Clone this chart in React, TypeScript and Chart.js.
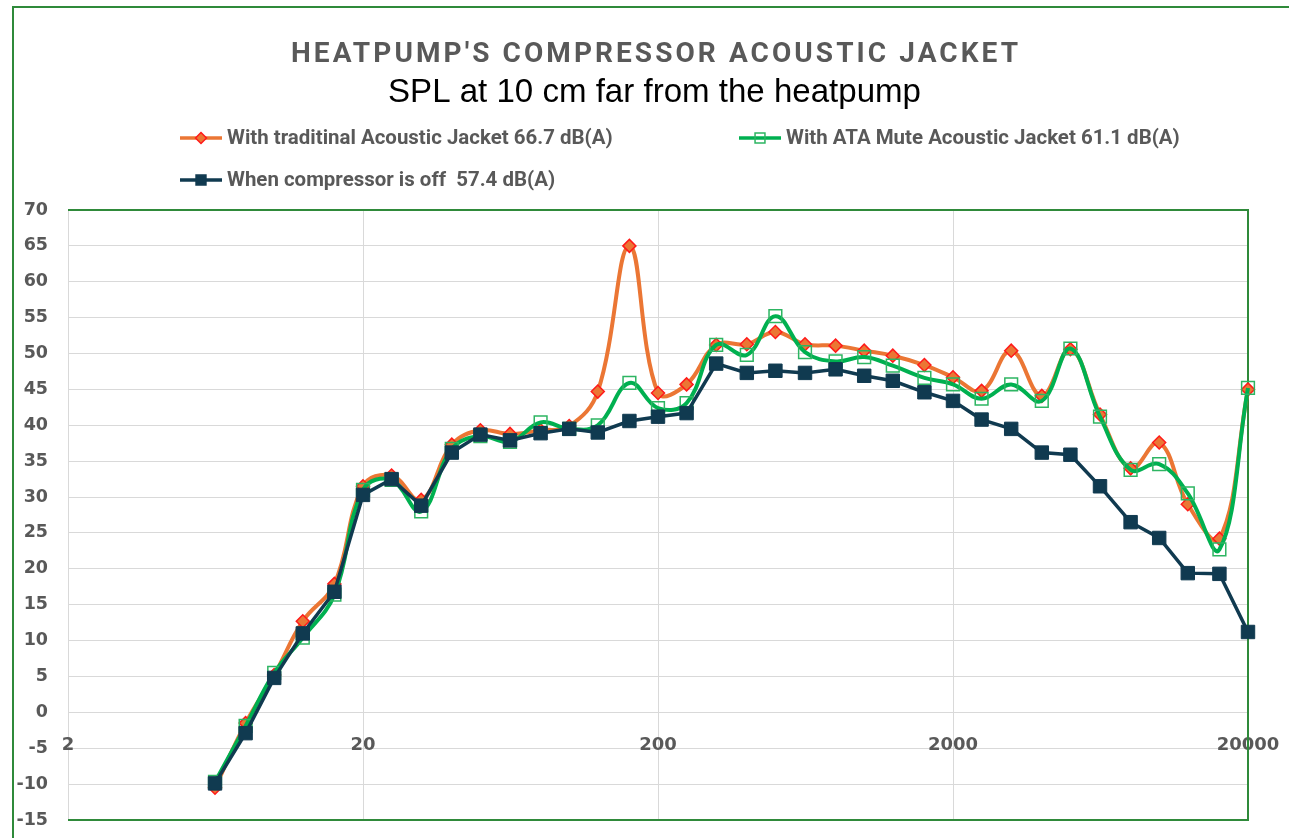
import React, { useEffect, useRef } from 'react';
import { Chart, registerables } from 'chart.js';

Chart.register(...registerables);

// ---------- data ----------
const FREQUENCIES = [6.3, 8, 10, 12.5, 16, 20, 25, 31.5, 40, 50, 63, 80, 100, 125, 160, 200, 250, 315, 400, 500, 630, 800, 1000, 1250, 1600, 2000, 2500, 3150, 4000, 5000, 6300, 8000, 10000, 12500, 16000, 20000];

const TRADITIONAL = [-10.5, -1.5, 5.2, 12.7, 17.9, 31.5, 33.0, 29.6, 37.3, 39.3, 38.8, 39.3, 39.9, 44.7, 65.0, 44.5, 45.7, 51.2, 51.3, 53.0, 51.3, 51.1, 50.4, 49.7, 48.4, 46.7, 44.8, 50.4, 44.1, 50.6, 41.5, 34.0, 37.6, 29.0, 24.2, 45.0];

const ATA_MUTE = [-9.7, -1.9, 5.5, 10.4, 16.4, 31.0, 32.4, 28.0, 36.7, 38.5, 37.7, 40.4, 39.5, 40.0, 45.9, 42.4, 43.1, 51.2, 49.8, 55.2, 50.2, 48.9, 49.5, 48.3, 46.6, 45.7, 43.7, 45.7, 43.4, 50.7, 41.2, 33.8, 34.6, 30.5, 22.7, 45.2];

const COMPRESSOR_OFF = [-9.9, -2.9, 4.8, 11.0, 16.8, 30.3, 32.5, 28.8, 36.2, 38.7, 37.9, 38.9, 39.5, 39.0, 40.6, 41.2, 41.7, 48.6, 47.3, 47.6, 47.3, 47.8, 46.9, 46.2, 44.6, 43.4, 40.8, 39.5, 36.2, 35.9, 31.5, 26.5, 24.3, 19.4, 19.3, 11.2];

const X_TICKS = [2, 20, 200, 2000, 20000];
const X_TICK_LABELS = ['2', '20', '200', '2000', '20000'];
const Y_MIN = -15;
const Y_MAX = 70;
const Y_STEP = 5;

const TITLE = "HEATPUMP'S COMPRESSOR ACOUSTIC JACKET";
const SUBTITLE = 'SPL at 10 cm far from the heatpump';
const SERIES_LABELS = [
  'With traditinal Acoustic Jacket 66.7 dB(A)',
  'With ATA Mute Acoustic Jacket 61.1 dB(A)',
  'When compressor is off  57.4 dB(A)',
];

// ---------- styles ----------
const ORANGE = '#EB7634';
const RED = '#FF1A1A';
const GREEN = '#00B050';
const GREEN_MARK = '#2DB562';
const NAVY = '#103A50';
const FRAME_GREEN = '#2F8A3A';
const GRID = '#D9D9D9';
const TEXT_GRAY = '#595959';

function toPoints(values: number[]) {
  return values.map((v, i) => ({ x: FREQUENCIES[i], y: v }));
}

function drawMarker(ctx: CanvasRenderingContext2D, style: string, x: number, y: number, r: number, fill: string | null, stroke: string, bw: number) {
  ctx.beginPath();
  if (style === 'rectRot') {
    ctx.moveTo(x - r, y);
    ctx.lineTo(x, y - r);
    ctx.lineTo(x + r, y);
    ctx.lineTo(x, y + r);
    ctx.closePath();
  } else {
    const s = r * Math.SQRT1_2;
    ctx.rect(x - s, y - s, 2 * s, 2 * s);
  }
  if (fill) {
    ctx.fillStyle = fill;
    ctx.fill();
  }
  ctx.lineWidth = bw;
  ctx.strokeStyle = stroke;
  ctx.stroke();
}

const decorPlugin = {
  id: 'decor',
  beforeDraw(chart: any) {
    const ctx: CanvasRenderingContext2D = chart.ctx;
    ctx.save();
    ctx.fillStyle = '#ffffff';
    ctx.fillRect(0, 0, chart.width, chart.height);
    ctx.strokeStyle = FRAME_GREEN;
    ctx.lineWidth = 2;
    ctx.strokeRect(13, 7, chart.width + 40, chart.height + 40);
    ctx.restore();
  },
  beforeDatasetsDraw(chart: any) {
    const ctx: CanvasRenderingContext2D = chart.ctx;
    const a = chart.chartArea;
    ctx.save();
    ctx.strokeStyle = FRAME_GREEN;
    ctx.lineWidth = 2;
    ctx.beginPath();
    ctx.moveTo(a.left, a.top);
    ctx.lineTo(a.right, a.top);
    ctx.lineTo(a.right, a.bottom);
    ctx.lineTo(a.left, a.bottom);
    ctx.stroke();
    ctx.restore();
  },
  afterDraw(chart: any) {
    const ctx: CanvasRenderingContext2D = chart.ctx;
    ctx.save();
    // Title with letter spacing
    ctx.fillStyle = TEXT_GRAY;
    ctx.textBaseline = 'alphabetic';
    ctx.textAlign = 'left';
    ctx.font = 'bold 28px Roboto';
    (ctx as any).letterSpacing = '0px';
    const w0 = ctx.measureText(TITLE).width;
    const n = TITLE.length;
    const targetW = 727;
    const ls = Math.max(0, (targetW - w0) / (n - 1));
    (ctx as any).letterSpacing = ls + 'px';
    ctx.fillText(TITLE, 654.5 - targetW / 2, 62);
    (ctx as any).letterSpacing = '0px';

    // Subtitle fitted to width
    ctx.fillStyle = '#000000';
    ctx.font = '100px "Liberation Sans"';
    const sw = ctx.measureText(SUBTITLE).width;
    const subSize = (533 / sw) * 100;
    ctx.font = subSize.toFixed(2) + 'px "Liberation Sans"';
    ctx.textAlign = 'center';
    ctx.fillText(SUBTITLE, 654.5, 102);

    // Legend
    ctx.font = 'bold 100px Roboto';
    const lw = ctx.measureText(SERIES_LABELS[0]).width;
    const legSize = (386 / lw) * 100;
    ctx.font = 'bold ' + legSize.toFixed(2) + 'px Roboto';
    ctx.textAlign = 'left';
    ctx.textBaseline = 'middle';
    const items = [
      { x: 180, y: 138, color: ORANGE, style: 'rectRot', r: 5.5, fill: ORANGE, stroke: RED, label: SERIES_LABELS[0] },
      { x: 739, y: 138, color: GREEN, style: 'rect', r: 7, fill: null, stroke: GREEN_MARK, label: SERIES_LABELS[1] },
      { x: 180, y: 180, color: NAVY, style: 'rect', r: 7, fill: NAVY, stroke: NAVY, label: SERIES_LABELS[2] },
    ];
    for (const it of items) {
      ctx.strokeStyle = it.color;
      ctx.lineWidth = 3.5;
      ctx.beginPath();
      ctx.moveTo(it.x, it.y);
      ctx.lineTo(it.x + 42, it.y);
      ctx.stroke();
      drawMarker(ctx, it.style, it.x + 21, it.y, it.r, it.fill, it.stroke, 1.5);
      ctx.fillStyle = TEXT_GRAY;
      ctx.fillText(it.label, it.x + 47, it.y + 1);
    }
    ctx.restore();
  },
};

export default function App() {
  const ref = useRef<HTMLCanvasElement>(null);

  useEffect(() => {
    if (!ref.current) return;
    const tickFont = { family: '"DejaVu Sans"', weight: 'bold' as const, size: 18 };
    const chart = new Chart(ref.current, {
      type: 'line',
      data: {
        datasets: [
          {
            label: SERIES_LABELS[2],
            data: toPoints(COMPRESSOR_OFF),
            borderColor: NAVY,
            backgroundColor: NAVY,
            borderWidth: 3.5,
            tension: 0,
            pointStyle: 'rect',
            pointRadius: 9.5,
            pointBackgroundColor: NAVY,
            pointBorderColor: NAVY,
            pointBorderWidth: 1,
            order: 1,
            clip: false,
          },
          {
            label: SERIES_LABELS[1],
            data: toPoints(ATA_MUTE),
            borderColor: GREEN,
            backgroundColor: 'rgba(0,0,0,0)',
            borderWidth: 4,
            tension: 0.4,
            pointStyle: 'rect',
            pointRadius: 9,
            pointBackgroundColor: 'rgba(0,0,0,0)',
            pointBorderColor: GREEN_MARK,
            pointBorderWidth: 1.5,
            order: 2,
            clip: false,
          },
          {
            label: SERIES_LABELS[0],
            data: toPoints(TRADITIONAL),
            borderColor: ORANGE,
            backgroundColor: ORANGE,
            borderWidth: 4,
            tension: 0.4,
            pointStyle: 'rectRot',
            pointRadius: 6.5,
            pointBackgroundColor: ORANGE,
            pointBorderColor: RED,
            pointBorderWidth: 1.5,
            order: 3,
            clip: false,
          },
        ],
      },
      options: {
        responsive: false,
        animation: false,
        devicePixelRatio: 1,
        events: [],
        layout: { padding: { top: 210, left: 0, right: 41, bottom: 18 } },
        plugins: {
          legend: { display: false },
          title: { display: false },
          tooltip: { enabled: false },
        },
        scales: {
          x: {
            type: 'logarithmic',
            position: { y: 0 } as any,
            min: 2,
            max: 20000,
            afterBuildTicks: (scale: any) => {
              scale.ticks = X_TICKS.map((v) => ({ value: v }));
            },
            afterFit: (scale: any) => {
              scale.paddingLeft = 0;
              scale.paddingRight = 0;
            },
            ticks: {
              autoSkip: false,
              maxRotation: 0,
              minRotation: 0,
              padding: 22,
              color: TEXT_GRAY,
              font: tickFont,
              callback: (_v: any, i: number) => X_TICK_LABELS[i],
            },
            grid: { color: GRID, lineWidth: 1, drawTicks: false },
            border: { display: false },
          },
          y: {
            type: 'linear',
            position: 'left',
            min: Y_MIN,
            max: Y_MAX,
            afterFit: (scale: any) => {
              scale.width = 68;
              scale.paddingTop = 0;
              scale.paddingBottom = 0;
            },
            ticks: {
              stepSize: Y_STEP,
              padding: 20,
              color: TEXT_GRAY,
              font: { ...tickFont, size: 17.5 },
            },
            grid: { color: GRID, lineWidth: 1, drawTicks: false },
            border: { display: false },
          },
        },
      },
      plugins: [decorPlugin],
    } as any);
    return () => chart.destroy();
  }, []);

  return (
    <div style={{ width: 1289, height: 838 }}>
      <style>{'body{margin:0;}'}</style>
      <canvas ref={ref} width={1289} height={838} style={{ display: 'block' }} />
    </div>
  );
}
